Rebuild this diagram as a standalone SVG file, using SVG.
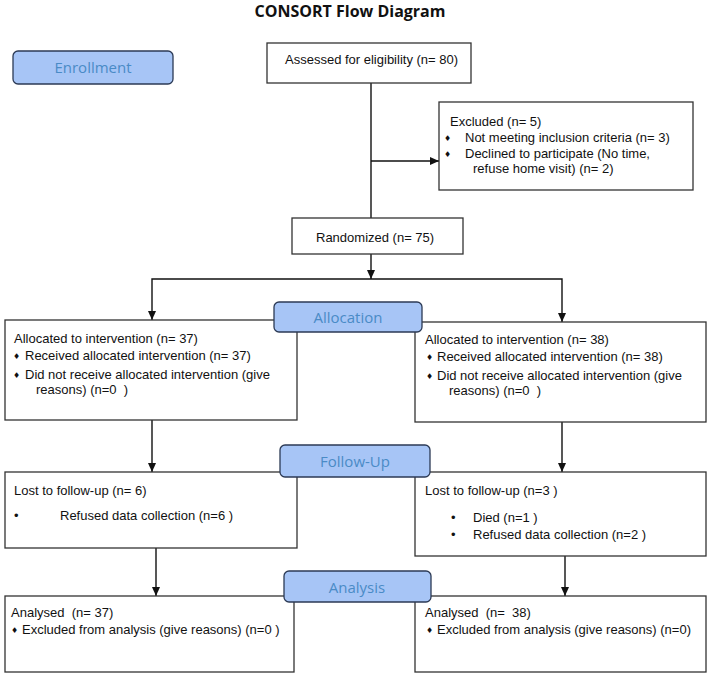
<svg xmlns="http://www.w3.org/2000/svg" width="709" height="673" viewBox="0 0 709 673">
<style>
.box{fill:#fff;stroke:#333;stroke-width:1.3}
.lbl{fill:#a7c5f6;stroke:#2c3a55;stroke-width:1.3}
.lt{font-family:"Open Sans","Liberation Sans",sans-serif;font-size:15px;fill:#4a8bc6;text-anchor:middle}
.t{font-family:"Liberation Sans",Arial,sans-serif;font-size:13px;fill:#111;white-space:pre}
.b{font-family:"DejaVu Sans","Liberation Sans",sans-serif;font-size:8px;fill:#111}
.c{stroke:#111;stroke-width:1.4;fill:none}
.title{font-family:"Open Sans","Liberation Sans",sans-serif;font-size:16px;font-weight:bold;fill:#111;text-anchor:middle}
</style>
<defs>
<marker id="ah" markerUnits="userSpaceOnUse" markerWidth="9" markerHeight="8" refX="9" refY="4" orient="auto">
<path d="M0,0 L9,4 L0,8 z" fill="#111"/>
</marker>
</defs>
<rect width="709" height="673" fill="#fff"/>
<text class="title" x="350" y="17">CONSORT Flow Diagram</text>

<g id="connectors">
<path class="c" d="M371,83 V218"/>
<path class="c" d="M371,161 H439" marker-end="url(#ah)"/>
<path class="c" d="M371,254 V279" marker-end="url(#ah)"/>
<path class="c" d="M371,279 H152 V320" marker-end="url(#ah)"/>
<path class="c" d="M371,279 H562 V322" marker-end="url(#ah)"/>
<path class="c" d="M152,420 V472" marker-end="url(#ah)"/>
<path class="c" d="M562,422 V472" marker-end="url(#ah)"/>
<path class="c" d="M156,548 V596" marker-end="url(#ah)"/>
<path class="c" d="M565,556 V596" marker-end="url(#ah)"/>
</g>

<g id="enrollment">
<rect class="lbl" x="13" y="51" width="160" height="33" rx="5"/>
<text class="lt" x="93" y="73">Enrollment</text>
</g>

<g id="assessed">
<rect class="box" x="267" y="43" width="204" height="40"/>
<text class="t" x="285" y="64">Assessed for eligibility (n= 80)</text>
</g>

<g id="excluded">
<rect class="box" x="439" y="102" width="254" height="88"/>
<text class="t" x="450" y="126">Excluded (n= 5)</text>
<text class="b" x="444" y="141">♦</text>
<text class="t" x="465" y="142">Not meeting inclusion criteria (n= 3)</text>
<text class="b" x="444" y="157">♦</text>
<text class="t" x="465" y="158">Declined to participate (No time,</text>
<text class="t" x="473" y="173">refuse home visit) (n= 2)</text>
</g>

<g id="randomized">
<rect class="box" x="292" y="218" width="171" height="36"/>
<text class="t" x="316" y="242">Randomized (n= 75)</text>
</g>

<g id="alloc-left">
<rect class="box" x="5" y="320" width="292" height="100"/>
<text class="t" x="14" y="343">Allocated to intervention (n= 37)</text>
<text class="b" x="13" y="359">♦</text>
<text class="t" x="25" y="360">Received allocated intervention (n= 37)</text>
<text class="b" x="13" y="378">♦</text>
<text class="t" x="25" y="379">Did not receive allocated intervention (give</text>
<text class="t" x="36" y="394">reasons) (n=0  )</text>
</g>

<g id="alloc-right">
<rect class="box" x="415" y="322" width="291" height="100"/>
<text class="t" x="425" y="344">Allocated to intervention (n= 38)</text>
<text class="b" x="426" y="360">♦</text>
<text class="t" x="437" y="361">Received allocated intervention (n= 38)</text>
<text class="b" x="426" y="379">♦</text>
<text class="t" x="437" y="380">Did not receive allocated intervention (give</text>
<text class="t" x="449" y="395">reasons) (n=0  )</text>
</g>

<g id="allocation">
<rect class="lbl" x="274" y="302" width="148" height="30" rx="5"/>
<text class="lt" x="348" y="323">Allocation</text>
</g>

<g id="follow-left">
<rect class="box" x="5" y="472" width="292" height="76"/>
<text class="t" x="14" y="495">Lost to follow-up (n= 6)</text>
<text class="t" x="14" y="520">•</text>
<text class="t" x="60" y="520">Refused data collection (n=6 )</text>
</g>

<g id="follow-right">
<rect class="box" x="415" y="472" width="291" height="84"/>
<text class="t" x="425" y="495">Lost to follow-up (n=3 )</text>
<text class="t" x="451" y="522">•</text>
<text class="t" x="473" y="522">Died (n=1 )</text>
<text class="t" x="451" y="539">•</text>
<text class="t" x="473" y="539">Refused data collection (n=2 )</text>
</g>

<g id="followup">
<rect class="lbl" x="280" y="445" width="150" height="32" rx="5"/>
<text class="lt" x="355" y="467">Follow-Up</text>
</g>

<g id="analysis-left">
<rect class="box" x="5" y="596" width="289" height="76"/>
<text class="t" x="11" y="617">Analysed  (n= 37)</text>
<text class="b" x="11" y="633">♦</text>
<text class="t" x="22" y="634">Excluded from analysis (give reasons) (n=0 )</text>
</g>

<g id="analysis-right">
<rect class="box" x="415" y="596" width="291" height="76"/>
<text class="t" x="425" y="617">Analysed  (n=  38)</text>
<text class="b" x="426" y="633">♦</text>
<text class="t" x="437" y="634">Excluded from analysis (give reasons) (n=0)</text>
</g>

<g id="analysis">
<rect class="lbl" x="284" y="571" width="147" height="31" rx="5"/>
<text class="lt" x="357" y="593">Analysis</text>
</g>
</svg>
